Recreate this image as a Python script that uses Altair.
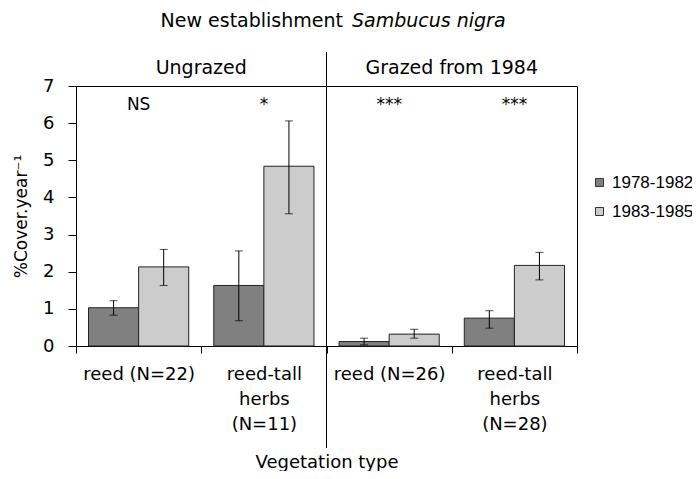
import altair as alt
import pandas as pd

# ---- data ----
groups = ["reed (N=22)", "reed-tall\nherbs\n(N=11)", "reed (N=26)", "reed-tall\nherbs\n(N=28)"]
periods = ["1978-1982", "1983-1985"]
mean_7882 = [1.03, 1.63, 0.12, 0.75]
lo_7882 = [0.83, 0.68, 0.03, 0.48]
hi_7882 = [1.22, 2.56, 0.21, 0.95]
mean_8385 = [2.13, 4.84, 0.32, 2.17]
lo_8385 = [1.63, 3.56, 0.21, 1.78]
hi_8385 = [2.60, 6.06, 0.45, 2.52]
signif = ["NS", "*", "***", "***"]
panels = ["Ungrazed", "Grazed from 1984"]
panel_at = [groups[0], groups[2]]
title_plain = "New establishment"
title_italic = "Sambucus nigra"
y_ticks = [0, 1, 2, 3, 4, 5, 6, 7]

rows = []
for i, g in enumerate(groups):
    rows.append({"group": g, "period": periods[0], "mean": mean_7882[i], "lo": lo_7882[i], "hi": hi_7882[i]})
    rows.append({"group": g, "period": periods[1], "mean": mean_8385[i], "lo": lo_8385[i], "hi": hi_8385[i]})
df = pd.DataFrame(rows)
sig_df = pd.DataFrame({"group": groups, "sig": signif})
panel_df = pd.DataFrame({"group": panel_at, "panel": panels})
div_df = pd.DataFrame({"group": [groups[2]]})
t1_df = pd.DataFrame({"t": [title_plain]})
t2_df = pd.DataFrame({"t": [title_italic]})

FONT = "DejaVu Sans"

xscale = alt.Scale(domain=groups, paddingInner=0, paddingOuter=0)
xoff = alt.XOffset("period:N", scale=alt.Scale(domain=periods, paddingInner=0, paddingOuter=0.25))
yscale = alt.Scale(domain=[0, 7], nice=False)

x_axis = alt.Axis(
    title="Vegetation type",
    labelAngle=0,
    labelExpr="split(datum.label, '\\n')",
    labelLineHeight=25,
    labelFontSize=18,
    labelPadding=12,
    labelColor="#000",
    tickBand="extent",
    tickSize=7,
    tickColor="#000",
    domainColor="#000",
    titleFontSize=18,
    titleFontWeight="normal",
    titlePadding=20,
    titleColor="#000",
)
y_axis = alt.Axis(
    title="%Cover.year⁻¹",
    values=y_ticks,
    tickCount=8,
    labelOverlap=False,
    grid=False,
    tickSize=8,
    tickColor="#000",
    domainColor="#000",
    labelFontSize=18,
    labelPadding=14,
    labelColor="#000",
    titleFontSize=17,
    titleFontWeight="normal",
    titlePadding=12,
    titleColor="#000",
)


def xe(**kw):
    return alt.X("group:N", scale=xscale, sort=groups, axis=x_axis, **kw)


bars = alt.Chart(df).mark_bar(stroke="#222", strokeWidth=1).encode(
    x=xe(),
    xOffset=xoff,
    y=alt.Y("mean:Q", scale=yscale, axis=y_axis),
    color=alt.Color(
        "period:N",
        scale=alt.Scale(domain=periods, range=["#808080", "#cccccc"]),
        legend=alt.Legend(
            title=None,
            orient="none",
            legendX=515,
            legendY=88,
            symbolType="square",
            symbolSize=64,
            symbolStrokeColor="#333",
            symbolStrokeWidth=1,
            labelFont="Liberation Sans",
            labelFontSize=17,
            labelColor="#000",
            labelOffset=4,
            rowPadding=11,
        ),
    ),
)

err = alt.Chart(df).mark_rule(color="#000", strokeWidth=1).encode(
    x=xe(),
    xOffset=xoff,
    y=alt.Y("lo:Q", scale=yscale, axis=y_axis),
    y2="hi:Q",
)
cap_hi = alt.Chart(df).mark_tick(color="#000", thickness=1, size=8).encode(
    x=xe(),
    xOffset=xoff,
    y=alt.Y("hi:Q", scale=yscale, axis=y_axis),
)
cap_lo = alt.Chart(df).mark_tick(color="#000", thickness=1, size=8).encode(
    x=xe(),
    xOffset=xoff,
    y=alt.Y("lo:Q", scale=yscale, axis=y_axis),
)

sig = alt.Chart(sig_df).mark_text(font=FONT, fontSize=17, baseline="alphabetic", color="#000").encode(
    x=xe(),
    y=alt.value(24),
    text="sig:N",
)

heads = alt.Chart(panel_df).mark_text(font=FONT, fontSize=19, baseline="middle", color="#000").encode(
    x=xe(bandPosition=1),
    y=alt.value(-18),
    text="panel:N",
)

divider = alt.Chart(div_df).mark_rule(color="#000", strokeWidth=1).encode(
    x=xe(bandPosition=0),
    y=alt.value(-34),
    y2=alt.value(362),
)

t1 = alt.Chart(t1_df).mark_text(font=FONT, fontSize=19, align="right", baseline="alphabetic", color="#000").encode(
    x=alt.value(267), y=alt.value(-59), text="t:N"
)
t2 = alt.Chart(t2_df).mark_text(font=FONT, fontSize=19, fontStyle="italic", align="left", baseline="alphabetic", color="#000").encode(
    x=alt.value(276), y=alt.value(-59), text="t:N"
)

chart = (
    alt.layer(bars, err, cap_hi, cap_lo, sig, heads, divider, t1, t2)
    .properties(
        width=501,
        height=260,
        autosize=alt.AutoSizeParams(type="none"),
        padding={"left": 68, "top": 78, "right": 115, "bottom": 125},
    )
    .configure(font=FONT)
    .configure_view(stroke="#000", strokeWidth=1)
)

chart.save("out.html", embed_options={"renderer": "svg", "actions": False})
